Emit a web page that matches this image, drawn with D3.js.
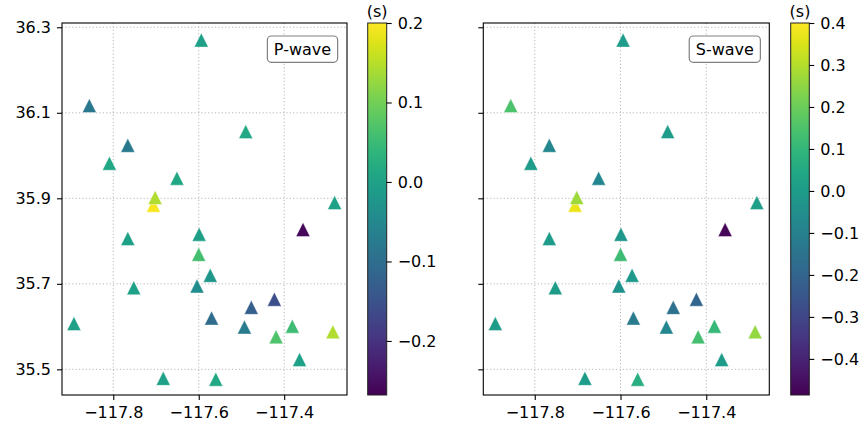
<!DOCTYPE html>
<html lang="en">
<head>
<meta charset="UTF-8">
<title>P-wave and S-wave station delays</title>
<script src="https://cdn.jsdelivr.net/npm/d3@7/dist/d3.min.js"></script>
<style>
    body { margin: 0; background: #fff; }
    svg { font-family: "DejaVu Sans", sans-serif; }
    .grid line { stroke: #b0b0b0; stroke-width: 0.9; stroke-dasharray: 1.2,2.2; }
    .tick text { font-size: 16px; fill: #000; }
</style>
</head>
<body>
<svg id="chart" width="865" height="431"></svg>
<script>
// station coordinates (drawing order)
const stationLon = [-117.594, -117.856, -117.766, -117.809, -117.651, -117.490, -117.282,
    -117.706, -117.702, -117.766, -117.599, -117.600, -117.573, -117.604, -117.752,
    -117.356, -117.423, -117.477, -117.570, -117.493, -117.892, -117.381, -117.419,
    -117.286, -117.364, -117.683, -117.560];
const stationLat = [36.270, 36.117, 36.024, 35.982, 35.947, 36.056, 35.890,
    35.884, 35.902, 35.806, 35.816, 35.769, 35.720, 35.695, 35.691,
    35.827, 35.664, 35.645, 35.620, 35.599, 35.607, 35.601, 35.576,
    35.588, 35.523, 35.479, 35.477];

// station delays (s)
const pDelay = [0.0, -0.08, -0.08, 0.01, 0.01, 0.01, 0.0,
    0.195, 0.145, 0.0, -0.006, 0.06, -0.02, -0.04, 0.0,
    -0.26, -0.155, -0.128, -0.104, -0.076, 0.0, 0.055, 0.069,
    0.144, 0.0, 0.0, 0.013];
const sDelay = [0.0, 0.15, -0.08, 0.0, -0.08, 0.0, 0.01,
    0.37, 0.27, 0.0, -0.016, 0.125, -0.008, -0.034, 0.0,
    -0.47, -0.2, -0.16, -0.12, -0.078, 0.0, 0.108, 0.134,
    0.258, 0.0, 0.0, 0.07];

const lonTicks = [-117.8, -117.6, -117.4];
const latTicks = [35.5, 35.7, 35.9, 36.1, 36.3];
const pTicks = [-0.2, -0.1, 0.0, 0.1, 0.2];
const sTicks = [-0.4, -0.3, -0.2, -0.1, 0.0, 0.1, 0.2, 0.3, 0.4];

const lonExtent = [-117.92, -117.253];
const latExtent = [35.44, 36.31];

const svg = d3.select("#chart");
const fmt = v => d3.format(".1f")(v).replace("-", "\u2212");

// triangle marker centred on its bounding box, like matplotlib '^'
const triangle = {
    draw(ctx, size) {
        const r = Math.sqrt(size) / 2;
        ctx.moveTo(0, -r);
        ctx.lineTo(r, r);
        ctx.lineTo(-r, r);
        ctx.closePath();
    }
};

const panels = [
    { name: "P-wave", values: pDelay, cmin: -0.268, cmax: 0.2, ticks: pTicks,
      x0: 62, x1: 347, cb0: 367.7, cb1: 386.7, yLabels: true },
    { name: "S-wave", values: sDelay, cmin: -0.486, cmax: 0.4, ticks: sTicks,
      x0: 483.3, x1: 769.3, cb0: 790.7, cb1: 809.3, yLabels: false }
];
const plotTop = 23, plotBottom = 395;

function styleAxis(a) {
    a.select(".domain").remove();
    a.selectAll(".tick line").attr("stroke", "#000").attr("stroke-width", 1.1);
    a.selectAll(".tick text").attr("font-family", "DejaVu Sans").attr("font-size", 16);
}

panels.forEach((p, pi) => {
    const x = d3.scaleLinear().domain(lonExtent).range([p.x0, p.x1]);
    const y = d3.scaleLinear().domain(latExtent).range([plotBottom, plotTop]);
    const color = d3.scaleSequential(d3.interpolateViridis).domain([p.cmin, p.cmax]);

    const g = svg.append("g");

    // grid
    const grid = g.append("g").attr("class", "grid");
    grid.selectAll(".gx").data(lonTicks).join("line").attr("class", "gx")
        .attr("x1", d => x(d)).attr("x2", d => x(d))
        .attr("y1", plotTop).attr("y2", plotBottom);
    grid.selectAll(".gy").data(latTicks).join("line").attr("class", "gy")
        .attr("y1", d => y(d)).attr("y2", d => y(d))
        .attr("x1", p.x0).attr("x2", p.x1);

    // stations
    const idx = d3.range(stationLon.length);
    g.append("g").selectAll("path").data(idx).join("path")
        .attr("d", d3.symbol().type(triangle).size(14 * 14))
        .attr("transform", i => `translate(${x(stationLon[i])},${y(stationLat[i])})`)
        .attr("fill", i => color(p.values[i]))
        .attr("stroke", "#fff")
        .attr("stroke-width", 0.4);

    // axes
    const xAxis = d3.axisBottom(x).tickValues(lonTicks).tickFormat(fmt)
        .tickSize(5).tickPadding(7);
    const yAxis = d3.axisLeft(y).tickValues(latTicks).tickFormat(p.yLabels ? fmt : () => "")
        .tickSize(5).tickPadding(6);
    g.append("g").attr("transform", `translate(0,${plotBottom})`).call(xAxis).call(styleAxis);
    g.append("g").attr("transform", `translate(${p.x0},0)`).call(yAxis).call(styleAxis);

    g.append("rect")
        .attr("x", p.x0).attr("y", plotTop)
        .attr("width", p.x1 - p.x0).attr("height", plotBottom - plotTop)
        .attr("fill", "none").attr("stroke", "#000").attr("stroke-width", 1.1);

    // label box
    const box = g.append("rect");
    const lbl = g.append("text")
        .attr("x", p.x1 - 44.5).attr("y", 49.5)
        .attr("text-anchor", "middle").attr("dominant-baseline", "central")
        .attr("font-size", 16).text(p.name);
    const bw = lbl.node().getComputedTextLength() + 13;
    box.attr("x", p.x1 - 44.5 - bw / 2).attr("y", 36)
        .attr("width", bw).attr("height", 26.3)
        .attr("rx", 4).attr("fill", "#fff")
        .attr("stroke", "#808080").attr("stroke-width", 1.2);

    // colorbar
    const cy = d3.scaleLinear().domain([p.cmin, p.cmax]).range([plotBottom, plotTop]);
    const gradId = "grad" + pi;
    const grad = svg.append("defs").append("linearGradient")
        .attr("id", gradId).attr("x1", 0).attr("x2", 0).attr("y1", 1).attr("y2", 0);
    grad.selectAll("stop").data(d3.range(0, 1.0001, 0.05)).join("stop")
        .attr("offset", d => d)
        .attr("stop-color", d => d3.interpolateViridis(d));
    g.append("rect")
        .attr("x", p.cb0).attr("y", plotTop)
        .attr("width", p.cb1 - p.cb0).attr("height", plotBottom - plotTop)
        .attr("fill", `url(#${gradId})`)
        .attr("stroke", "#222").attr("stroke-width", 1);
    const cAxis = d3.axisRight(cy).tickValues(p.ticks).tickFormat(fmt)
        .tickSize(5).tickPadding(6);
    g.append("g").attr("transform", `translate(${p.cb1},0)`).call(cAxis).call(styleAxis);
    g.append("text")
        .attr("x", (p.cb0 + p.cb1) / 2).attr("y", 17)
        .attr("text-anchor", "middle").attr("font-size", 16)
        .text("(s)");
});
</script>
</body>
</html>
